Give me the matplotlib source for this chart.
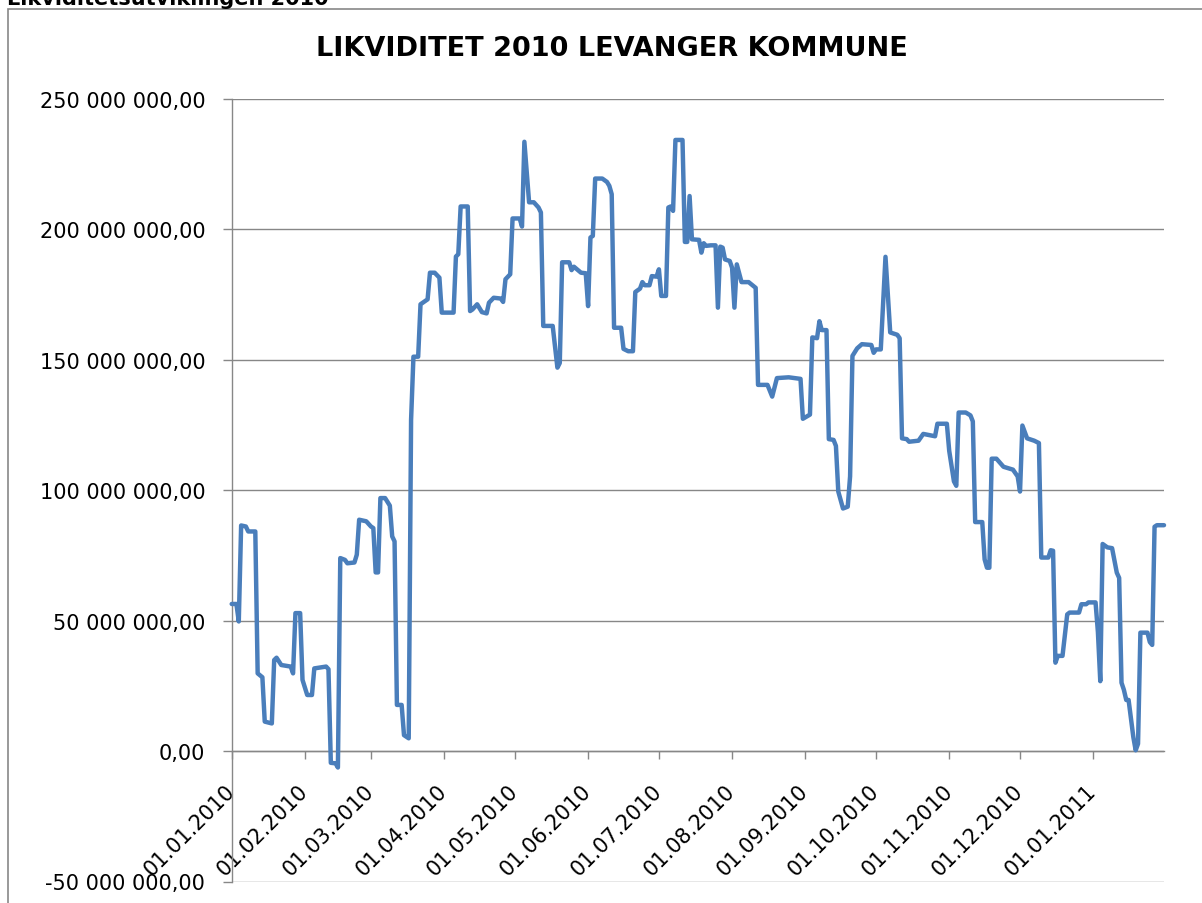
import datetime as dt
import matplotlib
matplotlib.use("Agg")
import matplotlib.pyplot as plt
from matplotlib.ticker import FuncFormatter, MultipleLocator
from matplotlib.patches import Rectangle

# days after 01.01.2010 and liquidity in million NOK
days = [0, 2, 3, 4, 6, 7, 10, 11, 13, 14, 17, 18, 19, 21, 25, 26, 27, 29, 30, 32,
        34, 35, 40, 41, 42, 44, 45, 46, 48, 49, 52, 53, 54, 57, 59, 60, 61, 62, 63, 65,
        67, 68, 69, 70, 72, 73, 75, 76, 77, 79, 80, 83, 84, 86, 88, 89, 94, 95, 96, 97,
        100, 101, 102, 104, 106, 108, 109, 111, 114, 115, 116, 118, 119, 122, 123, 124, 126, 128, 130, 131,
        132, 136, 138, 139, 140, 143, 144, 145, 148, 150, 151, 152, 153, 154, 157, 159, 160, 161, 162, 165,
        166, 168, 170, 171, 173, 174, 175, 177, 178, 180, 181, 182, 184, 185, 186, 187, 188, 191, 192, 193,
        194, 195, 198, 199, 200, 201, 203, 205, 206, 207, 208, 209, 211, 212, 213, 214, 216, 219, 222, 223,
        227, 229, 231, 236, 241, 242, 245, 246, 248, 249, 250, 252, 253, 255, 256, 257, 259, 261, 262, 263,
        265, 267, 271, 272, 273, 275, 277, 279, 282, 283, 284, 286, 287, 291, 293, 298, 299, 303, 304, 306,
        307, 308, 311, 313, 314, 315, 318, 319, 320, 321, 322, 324, 327, 331, 333, 334, 335, 337, 340, 342,
        343, 346, 347, 348, 349, 350, 352, 354, 355, 359, 360, 362, 363, 366, 367, 368, 369, 371, 373, 375,
        376, 377, 378, 379, 380, 382, 383, 384, 385, 388, 389, 390, 391, 392, 395]

liquidity_mill = [56.4, 56.4, 49.7, 86.5, 86.1, 84.2, 84.2, 29.8, 28.3, 11.3, 10.6, 34.9, 35.8, 33.0, 32.4, 29.8, 52.9, 52.9, 27.3, 21.5,
                  21.5, 31.7, 32.4, 31.4, -4.5, -4.7, -6.3, 74.0, 73.3, 72.0, 72.3, 75.3, 88.7, 88.1, 86.1, 85.5, 68.5, 68.5, 97.0, 97.0,
                  94.1, 82.3, 80.4, 17.7, 17.7, 6.1, 4.9, 127.0, 151.2, 151.2, 171.3, 173.2, 183.4, 183.4, 181.5, 168.1, 168.1, 189.6, 190.5, 208.8,
                  208.8, 168.7, 169.3, 171.3, 168.3, 167.8, 171.9, 173.8, 173.5, 172.2, 180.9, 182.8, 204.2, 204.2, 201.1, 233.6, 210.4, 210.4, 208.4, 206.5,
                  163.0, 163.0, 147.0, 148.8, 187.4, 187.4, 184.4, 185.7, 183.4, 183.2, 170.6, 196.9, 197.5, 219.5, 219.5, 218.2, 216.7, 213.5, 162.3, 162.3,
                  154.2, 153.3, 153.3, 176.0, 177.3, 179.8, 178.6, 178.6, 182.1, 181.9, 184.7, 174.5, 174.5, 208.4, 208.8, 207.1, 234.3, 234.3, 195.2, 195.2,
                  212.8, 196.2, 196.0, 191.1, 194.7, 193.7, 193.9, 193.9, 170.0, 193.4, 193.0, 188.5, 187.9, 185.3, 170.0, 186.6, 179.8, 179.8, 177.6, 140.4,
                  140.4, 135.9, 143.0, 143.3, 142.7, 127.4, 129.0, 158.6, 158.3, 164.8, 161.4, 161.4, 119.6, 119.3, 117.0, 99.5, 93.0, 93.7, 105.3, 151.5,
                  154.4, 156.0, 155.7, 152.7, 154.0, 154.0, 189.5, 160.5, 159.6, 158.3, 119.9, 119.6, 118.6, 119.0, 121.6, 120.7, 125.5, 125.5, 115.1, 103.4,
                  101.7, 129.8, 129.8, 128.7, 126.4, 87.8, 87.8, 73.5, 70.3, 70.3, 112.1, 112.1, 109.0, 107.9, 105.3, 99.5, 124.8, 119.9, 119.0, 118.1,
                  74.2, 74.2, 77.0, 76.8, 33.9, 36.5, 36.5, 52.4, 53.1, 53.1, 56.3, 56.3, 57.0, 57.0, 45.6, 26.8, 79.4, 78.1, 77.8, 68.4,
                  66.4, 26.2, 23.5, 19.6, 19.6, 5.4, 0.3, 2.8, 45.4, 45.4, 41.8, 40.7, 86.0, 86.6, 86.6]

month_labels = ["01.01.2010", "01.02.2010", "01.03.2010", "01.04.2010", "01.05.2010",
                "01.06.2010", "01.07.2010", "01.08.2010", "01.09.2010", "01.10.2010",
                "01.11.2010", "01.12.2010", "01.01.2011"]

start = dt.datetime(2010, 1, 1)
last_day = 395

line_color = "#4a7ebb"
grey = "#878787"


def nok(v, pos):
    # norsk format: mellomrom som tusenskille, komma som desimaltegn
    return f"{v:,.2f}".replace(",", " ").replace(".", ",")


dates = [start + dt.timedelta(days=d) for d in days]
values = [v * 1e6 for v in liquidity_mill]
month_ticks = [dt.datetime.strptime(m, "%d.%m.%Y") for m in month_labels]

fig = plt.figure(figsize=(12.02, 9.04), dpi=100)

# chart border (goes past the right/bottom edge of the picture)
fig.add_artist(Rectangle((8 / 1202, -0.05), 1.2, 1 - 10 / 904 + 0.05,
                         transform=fig.transFigure, fill=False, ec=grey, lw=1.2))

# heading of the page above the chart, cut off at the top
fig.text(7 / 1202, 1 - 5 / 904, "Likviditetsutviklingen 2010", fontsize=15,
         fontweight="bold", ha="left", va="baseline")

fig.text(611.5 / 1202, 1 - 49 / 904, "LIKVIDITET 2010 LEVANGER KOMMUNE",
         fontsize=19.5, fontweight="bold", ha="center", va="center")

ax = fig.add_axes([231.7 / 1202, 1 - 882.5 / 904, (1164 - 231.7) / 1202, (882.5 - 100) / 904])

ax.plot(dates, values, color=line_color, lw=3.2, solid_joinstyle="round",
        solid_capstyle="round", clip_on=False, zorder=3)

ax.set_xlim(start, start + dt.timedelta(days=last_day))
ax.set_ylim(-50e6, 250e6)
ax.yaxis.set_major_locator(MultipleLocator(50e6))
ax.yaxis.set_major_formatter(FuncFormatter(nok))

ax.grid(axis="y", color=grey, lw=1.0)
ax.set_axisbelow(True)

ax.spines["top"].set_visible(False)
ax.spines["right"].set_visible(False)
ax.spines["bottom"].set_position(("data", 0))
ax.spines["bottom"].set_color(grey)
ax.spines["left"].set_color(grey)
ax.spines["bottom"].set_linewidth(1.0)
ax.spines["left"].set_linewidth(1.0)

ax.set_xticks(month_ticks)
ax.set_xticklabels(month_labels, rotation=45, ha="right", va="center",
                   rotation_mode="anchor")
ax.tick_params(axis="x", direction="out", length=6, width=1, color=grey,
               pad=20, labelsize=15)
ax.tick_params(axis="y", direction="out", length=6.5, width=1, color=grey,
               pad=12.5, labelsize=15)

fig.savefig("out.png", dpi=100)
plt.close(fig)
